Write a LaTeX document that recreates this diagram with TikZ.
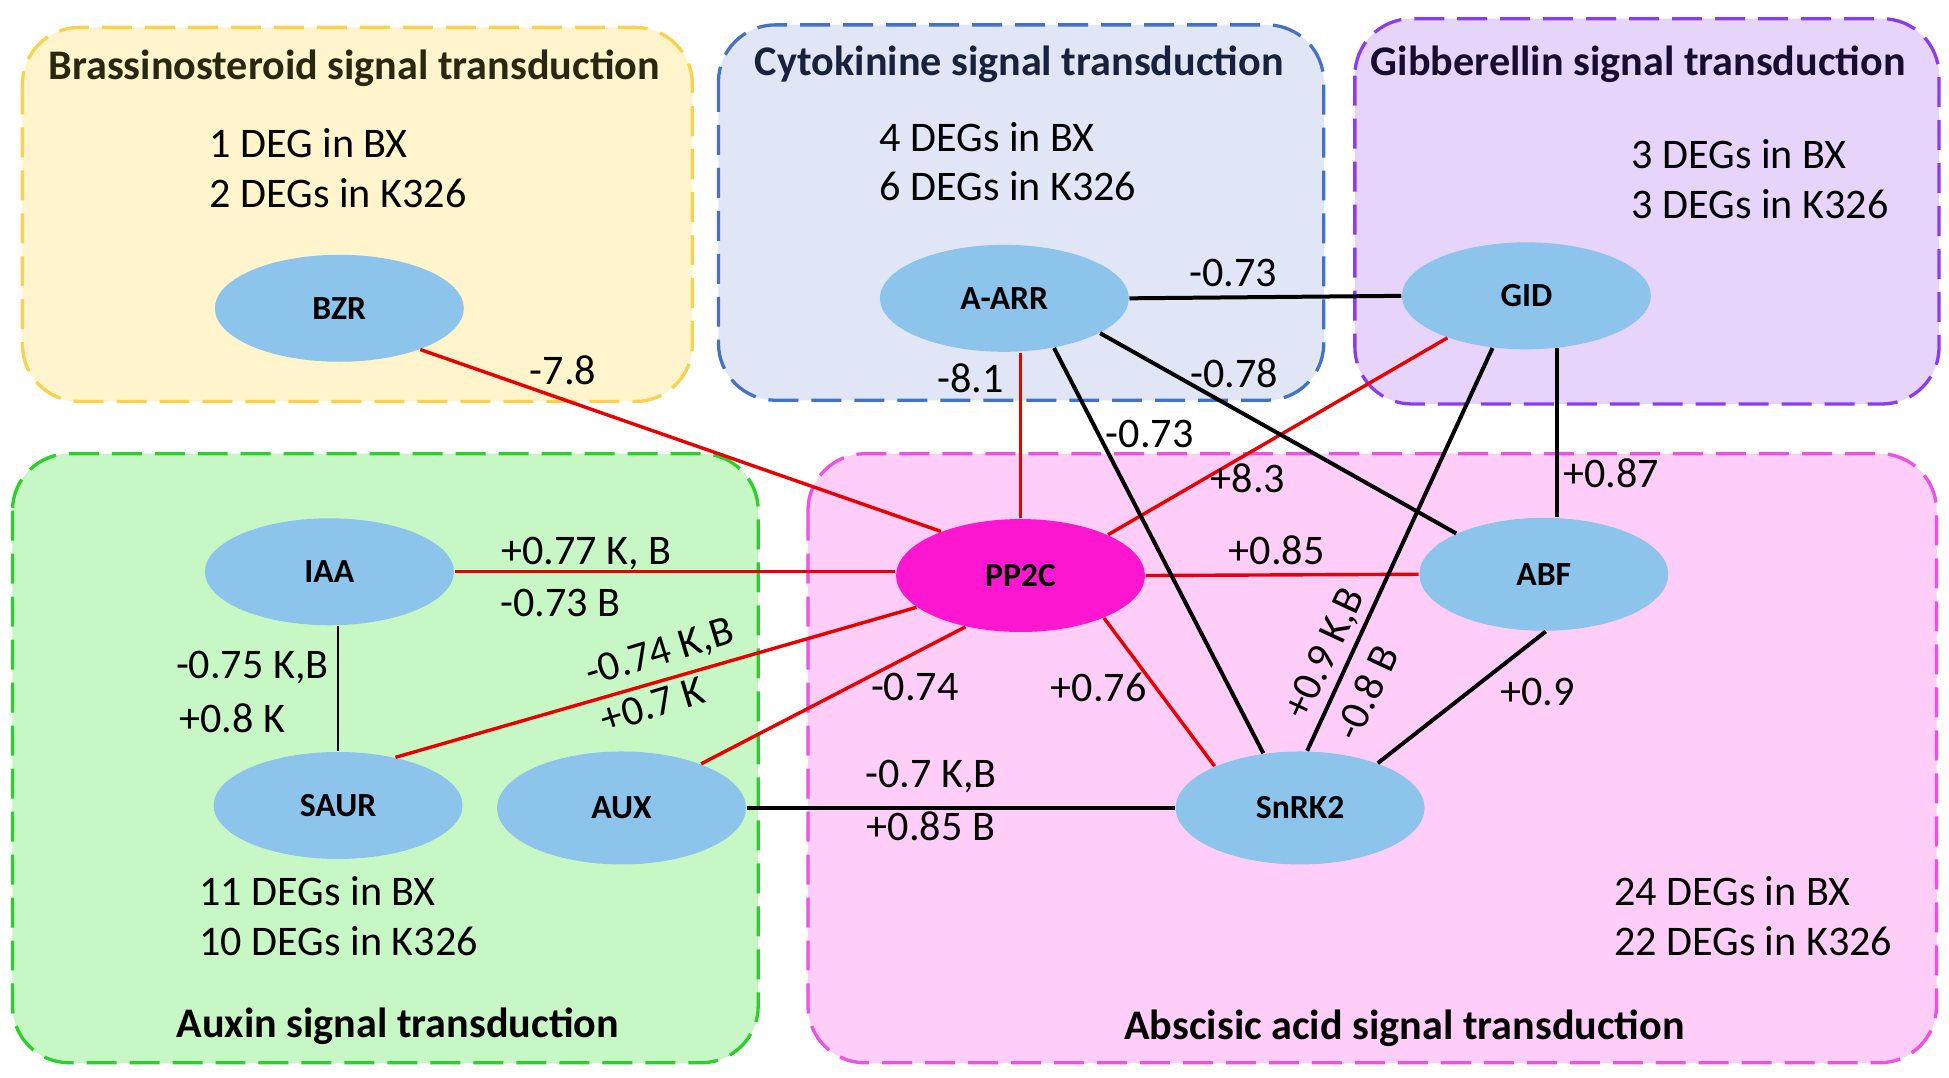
\documentclass[tikz,border=0pt]{standalone}
\usepackage{fontspec}
\setmainfont{Carlito}
\usetikzlibrary{shapes.geometric}
\definecolor{nodeblue}{RGB}{140,196,236}
\definecolor{hubpink}{RGB}{255,22,208}
\definecolor{linered}{RGB}{235,0,0}
\definecolor{yelfill}{RGB}{255,244,204}
\definecolor{yeldraw}{RGB}{250,210,80}
\definecolor{blufill}{RGB}{224,230,245}
\definecolor{bludraw}{RGB}{68,114,196}
\definecolor{purfill}{RGB}{230,212,250}
\definecolor{purdraw}{RGB}{140,60,240}
\definecolor{grnfill}{RGB}{200,247,198}
\definecolor{grndraw}{RGB}{40,210,40}
\definecolor{pnkfill}{RGB}{255,206,248}
\definecolor{pnkdraw}{RGB}{240,80,230}
\definecolor{ttlolive}{RGB}{40,40,16}
\definecolor{ttlnavy}{RGB}{24,34,60}
\definecolor{ttlpurp}{RGB}{26,12,48}
\tikzset{
  gene/.style={ellipse, fill=nodeblue, minimum width=2.49cm, minimum height=1.07cm, inner sep=0pt, font=\fontsize{9.6}{11}\selectfont\bfseries},
  tallgene/.style={gene, minimum height=1.13cm},
  hub/.style={tallgene, fill=hubpink},
  redline/.style={draw=linered, line width=0.034cm},
  blkline/.style={draw=black, line width=0.04cm},
  lbl/.style={font=\fontsize{12}{14}\selectfont, inner sep=0pt},
  deg/.style={font=\fontsize{12}{14.2}\selectfont, align=left, anchor=west, inner sep=0pt},
  ttl/.style={font=\fontsize{12}{14}\selectfont\bfseries, inner sep=0pt},
  panel/.style={rounded corners=0.57cm, line width=0.033cm, dash pattern=on 0.3cm off 0.13cm}
}
\begin{document}
\begin{tikzpicture}[x=0.01243cm,y=-0.01243cm]
\useasboundingbox (0,0) rectangle (1568,867);
\fill[white] (0,0) rectangle (1568,867);
% panels
\draw[panel, draw=yeldraw, fill=yelfill] (18,22) rectangle (557,323);
\draw[panel, draw=bludraw, fill=blufill] (578,20) rectangle (1065,322);
\draw[panel, draw=purdraw, fill=purfill] (1090,15) rectangle (1560,325);
\draw[panel, draw=grndraw, fill=grnfill] (10,365) rectangle (610,855);
\draw[panel, draw=pnkdraw, fill=pnkfill] (650,365) rectangle (1558,855);
% titles
\node[ttl, text=ttlolive] (tbr) at (285,55) {Brassinosteroid signal transduction};
\node[ttl, text=ttlnavy] (tck) at (820,52) {Cytokinine signal transduction};
\node[ttl, text=ttlpurp] (tgb) at (1318,52) {Gibberellin signal transduction};
\node[ttl] (tax) at (320,826) {Auxin signal transduction};
\node[ttl] (taba) at (1130,827) {Abscisic acid signal transduction};
% DEG counts
\node[deg] (dbr) at (168,135) {1 DEG in BX\\2 DEGs in K326};
\node[deg] (dck) at (707,130) {4 DEGs in BX\\6 DEGs in K326};
\node[deg] (dgb) at (1312,144) {3 DEGs in BX\\3 DEGs in K326};
\node[deg] (dax) at (160,737) {11 DEGs in BX\\10 DEGs in K326};
\node[deg] (daba) at (1298,737) {24 DEGs in BX\\22 DEGs in K326};
% nodes
\node[gene] (bzr) at (273,248) {BZR};
\node[gene] (aarr) at (808,240) {A-ARR};
\node[gene] (gid) at (1228,238) {GID};
\node[gene] (iaa) at (265,460) {IAA};
\node[hub] (pp2c) at (821,463) {PP2C};
\node[tallgene] (abf) at (1242,462) {ABF};
\node[gene] (saur) at (272,648) {SAUR};
\node[tallgene] (aux) at (500,650) {AUX};
\node[tallgene] (snrk) at (1046,650) {SnRK2};
% red edges
\draw[redline] (bzr.-27) -- (pp2c.151);
\draw[redline] (pp2c.north) -- (pp2c.north |- aarr.south);
\draw[redline] (gid.-152) -- (pp2c.25);
\draw[redline] (iaa.east) -- (pp2c.west |- iaa.east);
\draw[redline] (saur.40) -- (pp2c.197);
\draw[redline] (aux.29) -- (pp2c.223);
\draw[redline] (pp2c.east) -- (abf.west);
\draw[redline] (pp2c.-27) -- (snrk.154);
% black edges
\draw[blkline] (aarr.east) -- (gid.west);
\draw[blkline] (aarr.-20) -- (abf.155);
\draw[blkline] (aarr.-45) -- (snrk.124);
\draw[blkline] (gid.237) -- (snrk.83);
\draw[blkline] (gid.-60) -- (gid.-60 |- abf.north);
\draw[blkline] (abf.-88) -- (snrk.30);
\draw[blkline] (aux.east) -- (snrk.west);
\draw[draw=black, line width=0.026cm] (saur.north |- iaa.south) -- (saur.north);
% edge labels
\node[lbl] (l1) at (453,298) {-7.8};
\node[lbl] (l2) at (781,304) {-8.1};
\node[lbl] (l3) at (992,220) {-0.73};
\node[lbl] (l4) at (993,300) {-0.78};
\node[lbl] (l5) at (925,349) {-0.73};
\node[lbl] (l6) at (1004,385) {+8.3};
\node[lbl] (l7) at (1296,381) {+0.87};
\node[lbl] (l8) at (472,445) {+0.77 K, B};
\node[lbl] (l9) at (451,485) {-0.73 B};
\node[lbl] (l10) at (1027,443) {+0.85};
\node[lbl] (l11) at (203,537) {-0.75 K,B};
\node[lbl] (l12) at (187,578) {+0.8 K};
\node[lbl, rotate=17] (l13) at (531,526) {-0.74 K,B};
\node[lbl, rotate=17] (l14) at (525,567) {+0.7 K};
\node[lbl] (l15) at (736,553) {-0.74};
\node[lbl] (l16) at (884,553) {+0.76};
\node[lbl, rotate=65] (l17) at (1067,526) {+0.9 K,B};
\node[lbl, rotate=65] (l18) at (1099,557) {-0.8 B};
\node[lbl] (l19) at (1237,557) {+0.9};
\node[lbl] (l20) at (749,625) {-0.7 K,B};
\node[lbl] (l21) at (749,665) {+0.85 B};
\end{tikzpicture}
\end{document}
